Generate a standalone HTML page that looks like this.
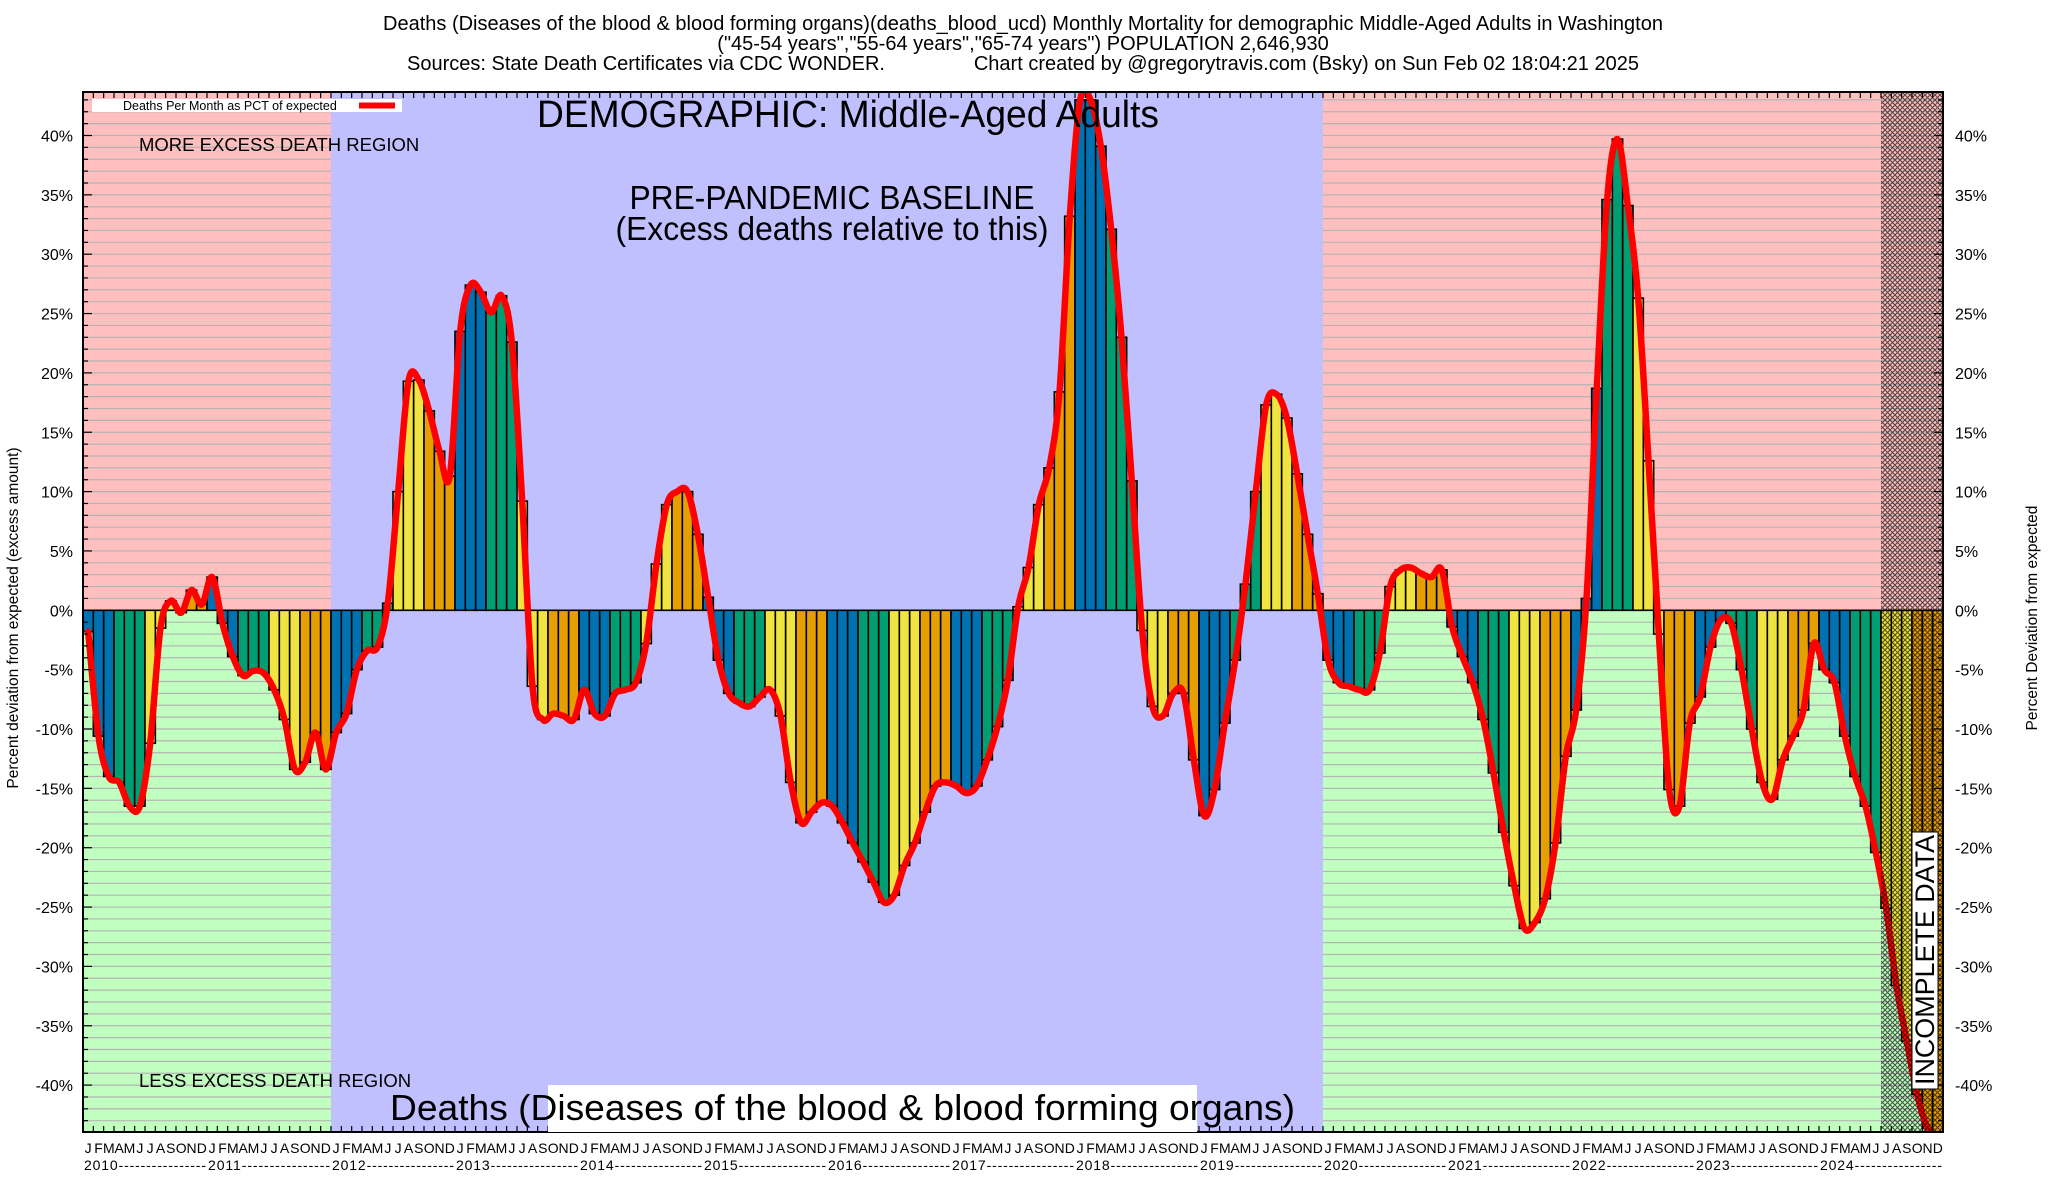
<!DOCTYPE html>
<html><head><meta charset="utf-8"><style>
html,body{margin:0;padding:0;background:#fff;}
svg{display:block;font-family:"Liberation Sans",sans-serif;}
</style></head><body>
<svg id="chart" width="2048" height="1200" viewBox="0 0 2048 1200" xmlns="http://www.w3.org/2000/svg">
<defs>
<pattern id="hatch" patternUnits="userSpaceOnUse" width="5" height="5">
<path d="M0,0 L5,5 M5,0 L0,5" stroke="#000" stroke-width="1.1" stroke-opacity="0.65"/>
</pattern>
<clipPath id="plotclip"><rect x="83" y="92" width="1860" height="1040"/></clipPath>
</defs>
<text x="1023" y="30" font-size="20" text-anchor="middle">Deaths (Diseases of the blood &amp; blood forming organs)(deaths_blood_ucd) Monthly Mortality for demographic Middle-Aged Adults in Washington</text>
<text x="1023" y="50" font-size="20" text-anchor="middle">("45-54 years","55-64 years","65-74 years") POPULATION 2,646,930</text>
<text x="1023" y="70" font-size="20" text-anchor="middle" xml:space="preserve">Sources: State Death Certificates via CDC WONDER.                Chart created by @gregorytravis.com (Bsky) on Sun Feb 02 18:04:21 2025</text>
<g id="bg"></g>
<g id="grid"></g>
<g id="blue"></g>
<g id="bars" clip-path="url(#plotclip)"></g>
<g id="line" clip-path="url(#plotclip)"></g>
<g id="hatchg"></g>
<g id="axes"></g>
<g id="labels"></g>
</svg>
<script>
const months = ['J','F','M','A','M','J','J','A','S','O','N','D'];
const years = [2010,2011,2012,2013,2014,2015,2016,2017,2018,2019,2020,2021,2022,2023,2024];
const yTicks = [-40,-35,-30,-25,-20,-15,-10,-5,0,5,10,15,20,25,30,35,40];
const values = [
-1.8,-10.6,-14,-14.5,-16.5,-16.5,-11.2,-1.5,0.8,-0.2,1.7,0.5,
2.8,-1.1,-3.9,-5.5,-5.1,-5.3,-6.7,-9.2,-13.4,-12.8,-10.3,-13.4,
-10.3,-8.7,-5,-3.4,-3.1,0.6,10,19.3,19.4,16.8,13.4,11.3,
23.5,27.4,26.8,25.1,26.5,22.6,9.2,-6.4,-9.2,-8.7,-8.9,-9.2,
-6.7,-8.7,-8.9,-7,-6.7,-6.1,-2.8,3.9,8.9,10,10,6.4,
1.1,-4.2,-7,-7.8,-8.1,-7.3,-6.7,-8.9,-14.5,-17.9,-17,-16.2,
-16.5,-17.9,-19.6,-21.2,-22.9,-24.6,-24,-21.5,-19.6,-17,-14.8,-14.5,
-14.8,-15.4,-14.8,-12.6,-9.8,-5.9,0.3,3.6,8.9,12,18.4,33.2,
43,43,39.1,32.1,23,10.9,-1.7,-8.1,-8.9,-7,-7,-12.6,
-17.3,-15.1,-9.5,-4.2,2.2,10,17.3,18.2,16.2,11.5,6.4,1.4,
-4.2,-6.1,-6.4,-6.7,-6.7,-3.6,2,3.4,3.6,3.1,2.8,3.4,
-1.4,-3.9,-6.1,-9.2,-13.7,-18.7,-23.2,-26.8,-26.3,-24.3,-19.6,-12.3,
-8.4,1,18.7,34.6,39.7,34.1,26.3,12.6,-2,-15.1,-16.5,-9.5,
-7.3,-3.1,-0.8,-1.1,-5,-10,-14.5,-15.9,-12.6,-10.6,-8.4,-2.8,
-5,-6.1,-10.6,-14,-16.5,-20.4,-25.1,-31.6,-36.3,-40.8,-43.6,-44.5
];
const quarterColors = ['#0072b2','#009e73','#f0e442','#e69f00'];
const NS='http://www.w3.org/2000/svg';
const L=83,R=1943,T=92,B=1132;
const N=values.length;
const W=(R-L)/180;
function x(i){return L+i*W;}
function y(v){return 610.3-v*11.87;}
function mk(tag,attrs,parent){const e=document.createElementNS(NS,tag);for(const k in attrs)e.setAttribute(k,attrs[k]);parent.appendChild(e);return e;}
const bg=document.getElementById('bg'),grid=document.getElementById('grid'),blue=document.getElementById('blue'),
bars=document.getElementById('bars'),line=document.getElementById('line'),hatchg=document.getElementById('hatchg'),
axes=document.getElementById('axes'),labels=document.getElementById('labels');
let r;
r=mk('rect',{x:L,y:T,width:R-L,height:y(0)-T,fill:'#ffbfbf'},bg);


r=mk('rect',{x:L,y:y(0),width:R-L,height:B-y(0),fill:'#c0ffc0'},bg);


for(let p=-43;p<=43;p++){
  const g=mk('line',{x1:L,x2:R,y1:y(p),y2:y(p),stroke:'#b4b4b4','stroke-width':1.2},grid);
  
  
}
r=mk('rect',{x:x(24),y:T,width:x(120)-x(24),height:B-T,fill:'#c0c0ff'},blue);


for(let i=0;i<N;i++){
  const v=values[i];
  const y0=y(0),y1=y(v);
  const b=mk('rect',{x:x(i),y:Math.min(y0,y1),width:W,height:Math.abs(y1-y0),fill:quarterColors[Math.floor((i%12)/3)],stroke:'#000','stroke-width':1.6},bars);
  
  
}
const pts=values.map((v,i)=>[x(i)+W/2,y(v)]);
let d='M'+pts[0][0]+','+pts[0][1];
for(let i=0;i<pts.length-1;i++){
  const p0=pts[Math.max(0,i-1)],p1=pts[i],p2=pts[i+1],p3=pts[Math.min(pts.length-1,i+2)];
  const c1=[p1[0]+(p2[0]-p0[0])/6,p1[1]+(p2[1]-p0[1])/6];
  const c2=[p2[0]-(p3[0]-p1[0])/6,p2[1]-(p3[1]-p1[1])/6];
  d+=' C'+c1[0].toFixed(1)+','+c1[1].toFixed(1)+' '+c2[0].toFixed(1)+','+c2[1].toFixed(1)+' '+p2[0].toFixed(1)+','+p2[1].toFixed(1);
}
const pl=mk('path',{d:d,fill:'none',stroke:'#ff0000','stroke-width':6.5,'stroke-linejoin':'round','stroke-linecap':'round'},line);


r=mk('rect',{x:x(174),y:T,width:R-x(174),height:B-T,fill:'url(#hatch)'},hatchg);


r=mk('rect',{x:L,y:T,width:R-L,height:B-T,fill:'none',stroke:'#000','stroke-width':2},axes);


for(let i=0;i<=180;i++){
  const t1=mk('line',{x1:x(i),x2:x(i),y1:T,y2:T+6,stroke:'#000','stroke-width':1.2},axes);
  
  
  const t2=mk('line',{x1:x(i),x2:x(i),y1:B,y2:B-6,stroke:'#000','stroke-width':1.2},axes);
  
  
}
for(let p=-43;p<=43;p++){
  const len=(p%5===0)?9:5;
  const a=mk('line',{x1:L,x2:L+len,y1:y(p),y2:y(p),stroke:'#000','stroke-width':1.2},axes);
  
  
  const b=mk('line',{x1:R,x2:R-len,y1:y(p),y2:y(p),stroke:'#000','stroke-width':1.2},axes);
  
  
}
for(const t of yTicks){
  const a=mk('text',{x:73,y:y(t)+6,'font-size':16,'text-anchor':'end'},labels);
  a.textContent=t+'%';
  
  
  const b=mk('text',{x:1955,y:y(t)+6,'font-size':16},labels);
  b.textContent=t+'%';
  
  
}
for(let i=0;i<N;i++){
  const m=mk('text',{x:x(i)+W/2,y:1153,'font-size':14,'text-anchor':'middle'},labels);
  m.textContent=months[i%12];
  
  
}
years.forEach((yr,k)=>{
  const t=mk('text',{x:x(k*12)+1,y:1170,'font-size':14,textLength:W*12-2,lengthAdjust:'spacing'},labels);
  t.textContent=yr+'----------------';
  
  
});
</script>
<svg style="position:absolute;left:0;top:0" width="2048" height="1200" viewBox="0 0 2048 1200" xmlns="http://www.w3.org/2000/svg" font-family="Liberation Sans, sans-serif">
<g>
<rect x="92" y="99" width="310" height="13" fill="#fff"/>
<text x="123" y="110" font-size="12.5">Deaths Per Month as PCT of expected</text>
<line x1="359" x2="395" y1="105.5" y2="105.5" stroke="#ff0000" stroke-width="6"/>
</g>
<text x="139" y="151" font-size="18.5">MORE EXCESS DEATH REGION</text>
<text x="139" y="1087" font-size="18.5">LESS EXCESS DEATH REGION</text>
<text x="848" y="127" font-size="38" text-anchor="middle" textLength="622" lengthAdjust="spacingAndGlyphs">DEMOGRAPHIC: Middle-Aged Adults</text>
<text x="832" y="209" font-size="33" text-anchor="middle" textLength="405" lengthAdjust="spacingAndGlyphs">PRE-PANDEMIC BASELINE</text>
<text x="832" y="240" font-size="33" text-anchor="middle" textLength="433" lengthAdjust="spacingAndGlyphs">(Excess deaths relative to this)</text>
<rect x="548" y="1085" width="649" height="47" fill="#fff"/>
<text x="390" y="1120" font-size="36" textLength="905" lengthAdjust="spacingAndGlyphs">Deaths (Diseases of the blood &amp; blood forming organs)</text>
<g>
<rect x="1912" y="832" width="26" height="257" fill="#fff" stroke="#000" stroke-width="1"/>
<text x="0" y="0" font-size="27" transform="translate(1934,1085) rotate(-90)" textLength="250" lengthAdjust="spacingAndGlyphs">INCOMPLETE DATA</text>
</g>
<text font-size="15.5" text-anchor="middle" transform="translate(18,618) rotate(-90)">Percent deviation from expected (excess amount)</text>
<text font-size="15.5" text-anchor="middle" transform="translate(2037,618) rotate(-90)">Percent Deviation from expected</text>
</svg>
</body></html>
